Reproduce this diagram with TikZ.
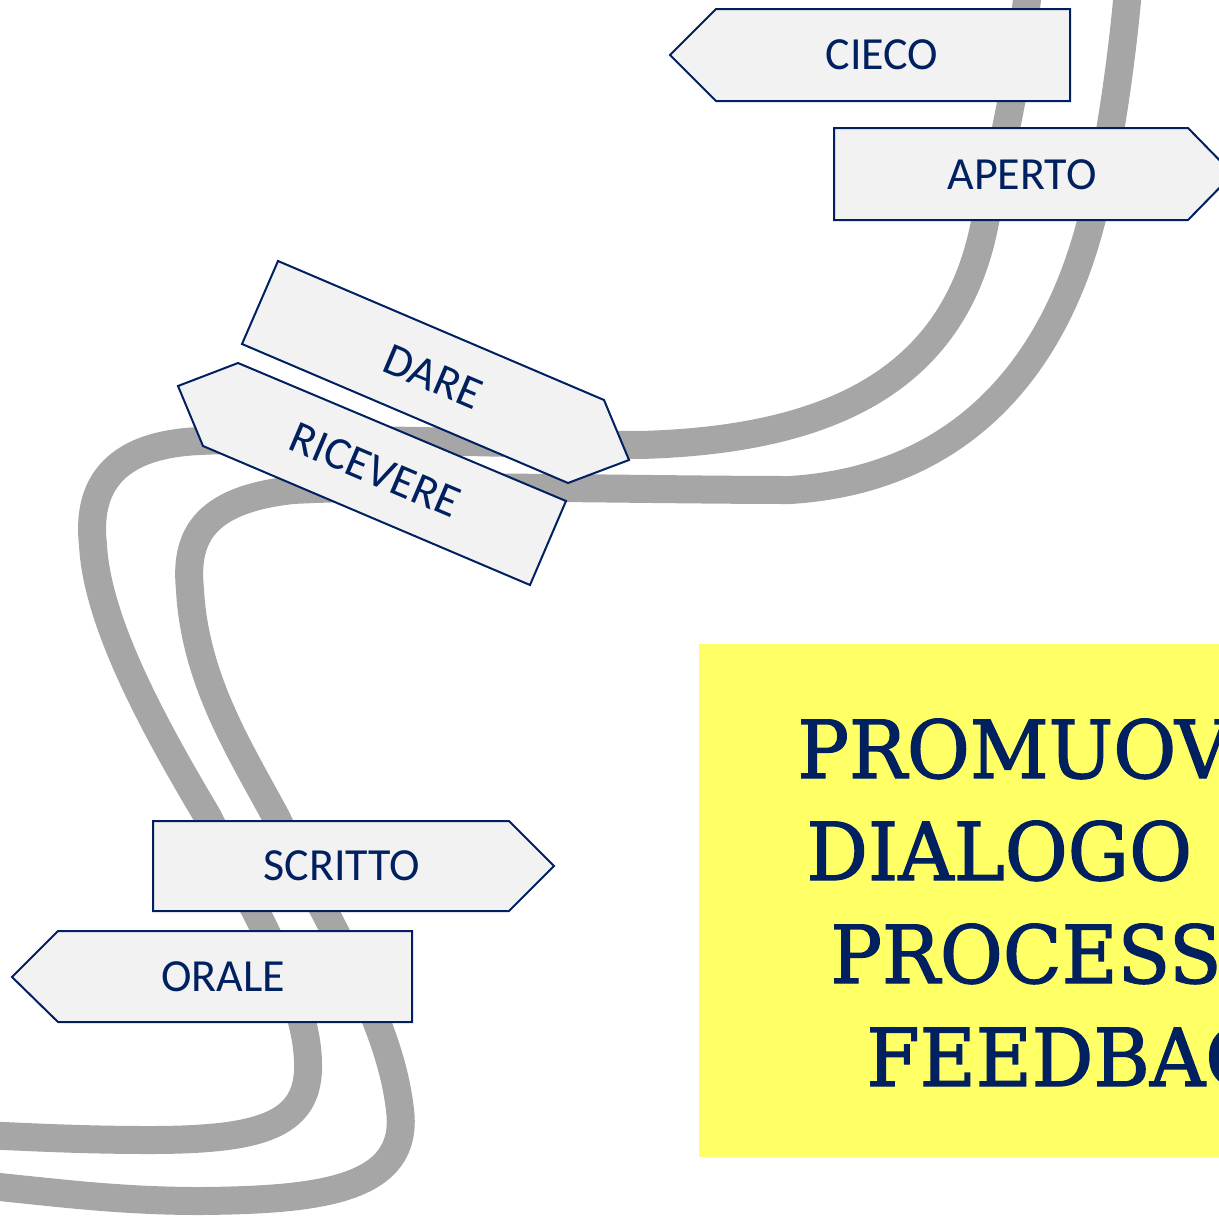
\documentclass[tikz,border=0pt]{standalone}
\usepackage{fontspec}
\setmainfont{Carlito}
\newfontfamily\slabfont{DejaVu Serif}[FakeBold=1.6, FakeStretch=0.96]
\definecolor{navy}{HTML}{002060}
\definecolor{signfill}{HTML}{F2F2F2}
\definecolor{roadgray}{HTML}{A6A6A6}
\definecolor{notey}{HTML}{FFFF66}
\begin{document}
\begin{tikzpicture}[x=0.5pt,y=-0.5pt,
  road/.style={line width=14pt, draw=roadgray, line join=round},
  signbox/.style={draw=navy, line width=1pt, fill=signfill, line join=miter},
  signtext/.style={text=navy, font=\fontsize{23}{27}\selectfont, inner sep=0pt},
  titletext/.style={text=navy, font=\slabfont\fontsize{40}{50}\selectfont, inner sep=0pt, anchor=base west}]
\useasboundingbox (0,0) rectangle (1219,1215);
\clip (0,0) rectangle (1219,1215);
% roads
\draw[road] (1028,-10) .. controls (1020,70) and (1000,160) .. (985,222)
  .. controls (955,380) and (830,440) .. (640,445)
  .. controls (500,444) and (300,436) .. (200,441)
  .. controls (100,445) and (88,500) .. (93,545)
  .. controls (97,620) and (150,720) .. (208,817)
  .. controls (260,925) and (310,1000) .. (308,1070)
  .. controls (306,1125) and (260,1140) .. (150,1140)
  .. controls (80,1140) and (30,1137) .. (-20,1135);
\draw[road] (1128,-10) .. controls (1120,80) and (1105,170) .. (1091,222)
  .. controls (1050,380) and (950,480) .. (790,490)
  .. controls (650,490) and (400,484) .. (293,490)
  .. controls (200,500) and (185,540) .. (190,590)
  .. controls (195,680) and (240,750) .. (276,817)
  .. controls (330,927) and (390,1020) .. (400,1110)
  .. controls (410,1190) and (320,1200) .. (200,1201)
  .. controls (120,1201) and (60,1193) .. (-20,1185);
% yellow box
\fill[notey] (699,644) rectangle (1500,1157);
\node[titletext] (l1) at (797,778) {PROMUOVERE};
\node[titletext] (l2) at (806,880) {DIALOGO NEI};
\node[titletext] (l3) at (830,983) {PROCESSI DI};
\node[titletext] (l4) at (866,1086) {FEEDBACK};
% signs
\path[signbox] (670,55) -- (716,9) -- (1070,9) -- (1070,101) -- (716,101) -- cycle;
\node[signtext] (cieco) at (882,55) {CIECO};
\path[signbox] (834,128) -- (1188,128) -- (1233,174) -- (1188,220) -- (834,220) -- cycle;
\node[signtext] (aperto) at (1022,175) {APERTO};
\path[signbox] (278,261) -- (604,400) -- (629,460) -- (568,483) -- (242,344) -- cycle;
\node[signtext, rotate=-23] (dare) at (433,377) {DARE};
\path[signbox] (238,363) -- (566,501) -- (530,585) -- (203,446) -- (178,386) -- cycle;
\node[signtext, rotate=-23] (ricevere) at (375,470) {RICEVERE};
\path[signbox] (153,821) -- (509,821) -- (554,866) -- (509,911) -- (153,911) -- cycle;
\node[signtext] (scritto) at (342,866) {SCRITTO};
\path[signbox] (12,977) -- (58,931) -- (412,931) -- (412,1022) -- (58,1022) -- cycle;
\node[signtext] (orale) at (223,977) {ORALE};
\end{tikzpicture}
\end{document}
